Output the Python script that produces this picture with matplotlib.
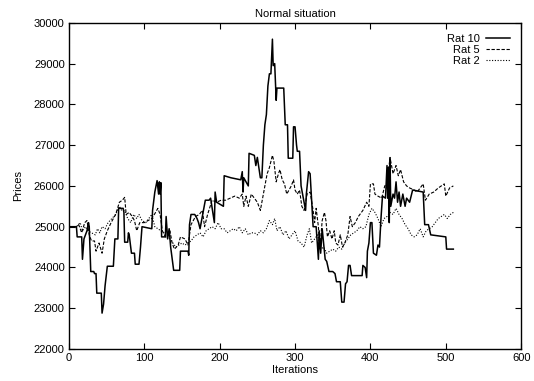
import matplotlib
matplotlib.use("Agg")
import matplotlib.pyplot as plt

plt.rcParams['font.family'] = ['Liberation Sans', 'DejaVu Sans']

# (iteration, price)
rat10 = [(0, 25000), (10, 25000), (11, 24750), (17, 24750), (18, 24200), (20, 24700), (24, 24900),
         (26, 25100), (27, 25000), (29, 23900), (33, 23900), (34, 23850), (36, 23850), (37, 23370),
         (43, 23370), (44, 22880), (46, 23100), (48, 23550), (51, 24030), (59, 24030), (61, 24700),
         (65, 24700), (66, 25450), (72, 25450), (73, 25350), (74, 24620), (78, 24620), (79, 24850),
         (80, 24800), (83, 24350), (87, 24350), (88, 24080), (93, 24080), (95, 24500), (97, 25000),
         (110, 24950), (111, 25400), (114, 25850), (117, 26130), (119, 25800), (120, 26100),
         (121, 25800), (122, 26080), (123, 24750), (128, 24750), (129, 25250), (131, 24700),
         (133, 24950), (135, 24500), (139, 23930), (147, 23930), (148, 24400), (158, 24400),
         (159, 24300), (160, 25050), (162, 25300), (167, 25300), (170, 25200), (172, 25100),
         (174, 24950), (178, 25350), (181, 25650), (186, 25650), (188, 25700), (193, 25100),
         (194, 25850), (196, 25600), (205, 25500), (206, 26250), (215, 26200), (228, 26150),
         (230, 26350), (231, 25850), (232, 26200), (238, 26000), (239, 26800), (246, 26750),
         (248, 26500), (250, 26700), (254, 26200), (256, 26200), (258, 27000), (260, 27500),
         (262, 27750), (264, 28450), (266, 28750), (268, 28750), (270, 29600), (271, 28950),
         (273, 29000), (275, 28100), (276, 28400), (285, 28400), (287, 27500), (290, 27500),
         (291, 26680), (297, 26680), (298, 27450), (300, 27450), (302, 27000), (303, 26850),
         (306, 26850), (308, 26000), (311, 25700), (314, 25400), (315, 25800), (318, 26350),
         (320, 26300), (324, 25000), (328, 25000), (331, 24200), (332, 24900), (334, 24350),
         (336, 24950), (340, 24200), (342, 24150), (345, 23900), (350, 23900), (353, 23850),
         (355, 23650), (360, 23650), (362, 23150), (365, 23150), (367, 23600), (369, 23650),
         (371, 24050), (373, 24050), (375, 23800), (389, 23800), (390, 24050), (393, 24000),
         (395, 23750), (396, 24400), (398, 24600), (400, 25100), (402, 25100), (404, 24350),
         (408, 24300), (410, 24550), (412, 24500), (414, 25200), (416, 25750), (420, 25700),
         (422, 26500), (423, 25700), (424, 26450), (425, 25100), (426, 26650), (427, 25500),
         (430, 25800), (432, 25700), (434, 26100), (436, 25600), (438, 25850), (440, 25500),
         (443, 25800), (446, 25500), (448, 25700), (452, 25600), (456, 25900), (470, 25850),
         (472, 25050), (477, 25050), (480, 24800), (500, 24750), (501, 24450), (510, 24450)]

rat5 = [(0, 25000), (10, 25000), (13, 25050), (17, 24850), (21, 25100), (24, 25150), (27, 24800),
        (30, 24650), (34, 24650), (36, 24400), (40, 24600), (44, 24350), (47, 24700), (51, 24900),
        (56, 25100), (62, 25300), (67, 25600), (71, 25650), (74, 25720), (76, 25300), (80, 25350),
        (84, 25250), (87, 25150), (90, 24900), (94, 25100), (100, 25100), (105, 25150), (110, 25200),
        (115, 25350), (118, 25450), (121, 25300), (124, 24900), (128, 24750), (132, 24800),
        (134, 24900), (137, 24600), (140, 24450), (145, 24550), (148, 24750), (154, 24700),
        (158, 24550), (162, 25050), (168, 25250), (173, 25300), (177, 25400), (180, 25000),
        (184, 25300), (190, 25650), (196, 25600), (202, 25650), (208, 25650), (214, 25700),
        (220, 25750), (226, 25700), (230, 25800), (232, 25500), (235, 25750), (238, 25500),
        (242, 25800), (246, 25700), (250, 25600), (254, 25400), (257, 25700), (260, 26000),
        (263, 26300), (266, 26450), (270, 26750), (272, 26600), (275, 26100), (278, 26300),
        (280, 26400), (283, 26150), (286, 26050), (289, 25800), (292, 25900), (295, 26000),
        (298, 26150), (300, 25900), (303, 25800), (306, 25900), (309, 25500), (312, 25400),
        (316, 25800), (320, 25850), (324, 25400), (326, 25100), (328, 25450), (331, 25000),
        (333, 24450), (336, 25150), (339, 25350), (341, 25150), (343, 24750), (346, 24900),
        (349, 24700), (352, 24900), (354, 24600), (357, 24550), (360, 24800), (363, 24500),
        (366, 24600), (370, 24800), (373, 25250), (376, 25000), (380, 25100), (384, 25250),
        (390, 25400), (395, 25600), (398, 25500), (400, 26050), (404, 26050), (406, 25800),
        (410, 25750), (415, 25700), (419, 26000), (422, 26050), (426, 26700), (430, 26300),
        (434, 26500), (437, 26250), (440, 26400), (444, 26100), (448, 26000), (452, 25950),
        (458, 25900), (462, 25850), (466, 25950), (470, 26050), (473, 25650), (478, 25800),
        (484, 25850), (490, 25950), (494, 26000), (498, 26050), (500, 25750), (505, 25950),
        (510, 26000)]

rat2 = [(0, 25000), (10, 25000), (15, 25100), (18, 24900), (22, 25000), (25, 24900), (30, 24850),
        (35, 24800), (38, 24950), (41, 24850), (44, 25000), (48, 24950), (52, 25100), (57, 25200),
        (62, 25300), (67, 25500), (70, 25400), (74, 25400), (78, 25200), (82, 25100), (86, 25300),
        (90, 25200), (93, 25300), (97, 25150), (102, 25100), (106, 25200), (110, 25300),
        (114, 25000), (118, 24950), (122, 24900), (126, 24850), (130, 24750), (134, 24700),
        (138, 24600), (142, 24500), (146, 24550), (150, 24600), (154, 24550), (158, 24600),
        (162, 24650), (166, 24750), (170, 24800), (174, 24850), (178, 24750), (182, 24900),
        (186, 24950), (190, 25000), (194, 24950), (198, 25100), (202, 24950), (206, 24950),
        (210, 24850), (214, 24900), (218, 24950), (222, 24900), (226, 25000), (230, 24850),
        (234, 24950), (238, 24800), (242, 24850), (246, 24850), (250, 24800), (254, 24900),
        (258, 24850), (262, 24950), (266, 25150), (270, 25050), (273, 25200), (276, 24900),
        (280, 25000), (284, 24800), (288, 24900), (292, 24700), (296, 24800), (300, 24900),
        (304, 24650), (308, 24600), (312, 24500), (316, 24800), (319, 24950), (322, 24600),
        (326, 24700), (330, 24800), (334, 24450), (338, 24500), (342, 24350), (346, 24400),
        (350, 24450), (354, 24400), (358, 24500), (362, 24450), (366, 24600), (370, 24700),
        (374, 24800), (378, 24850), (382, 24900), (386, 25000), (390, 24950), (394, 25000),
        (398, 25300), (402, 25450), (406, 25350), (410, 25200), (414, 25000), (418, 25200),
        (422, 25250), (426, 25350), (430, 25300), (434, 25450), (438, 25300), (442, 25200),
        (446, 25050), (450, 24950), (454, 24800), (458, 24750), (462, 24800), (466, 24950),
        (470, 24750), (474, 24900), (478, 24950), (482, 25000), (486, 25100), (490, 25200),
        (494, 25250), (498, 25300), (502, 25200), (506, 25300), (510, 25350)]

fig = plt.figure(figsize=(5.34, 3.81), dpi=100)
ax = fig.add_axes([0.129, 0.084, 0.847, 0.856])

x, y = zip(*rat10)
ax.plot(x, y, color='black', lw=1.1, ls='-', label='Rat 10')
x, y = zip(*rat5)
ax.plot(x, y, color='black', lw=0.8, ls=(0, (3, 1.5)), label='Rat 5')
x, y = zip(*rat2)
ax.plot(x, y, color='black', lw=0.8, ls=(0, (1, 1.5)), label='Rat 2')

ax.set_xlim(0, 600)
ax.set_ylim(22000, 30000)
ax.set_xticks(range(0, 601, 100))
ax.set_yticks(range(22000, 30001, 1000))
ax.tick_params(direction='in', top=True, right=True, length=4, width=0.8, labelsize=8, pad=3)
for s in ax.spines.values():
    s.set_linewidth(1.0)

ax.set_title('Normal situation', fontsize=8, pad=4)
ax.set_xlabel('Iterations', fontsize=8, labelpad=1)
ax.set_ylabel('Prices', fontsize=8, labelpad=8)

leg = ax.legend(loc='upper right', frameon=False, markerfirst=False, fontsize=8,
                handlelength=2.2, handletextpad=0.5, labelspacing=0.1, borderaxespad=0.6)
# gnuplot-style key: labels right-aligned against the line samples
for col in leg._legend_handle_box.get_children():
    col.align = 'right'

fig.savefig('out.png', dpi=100)
